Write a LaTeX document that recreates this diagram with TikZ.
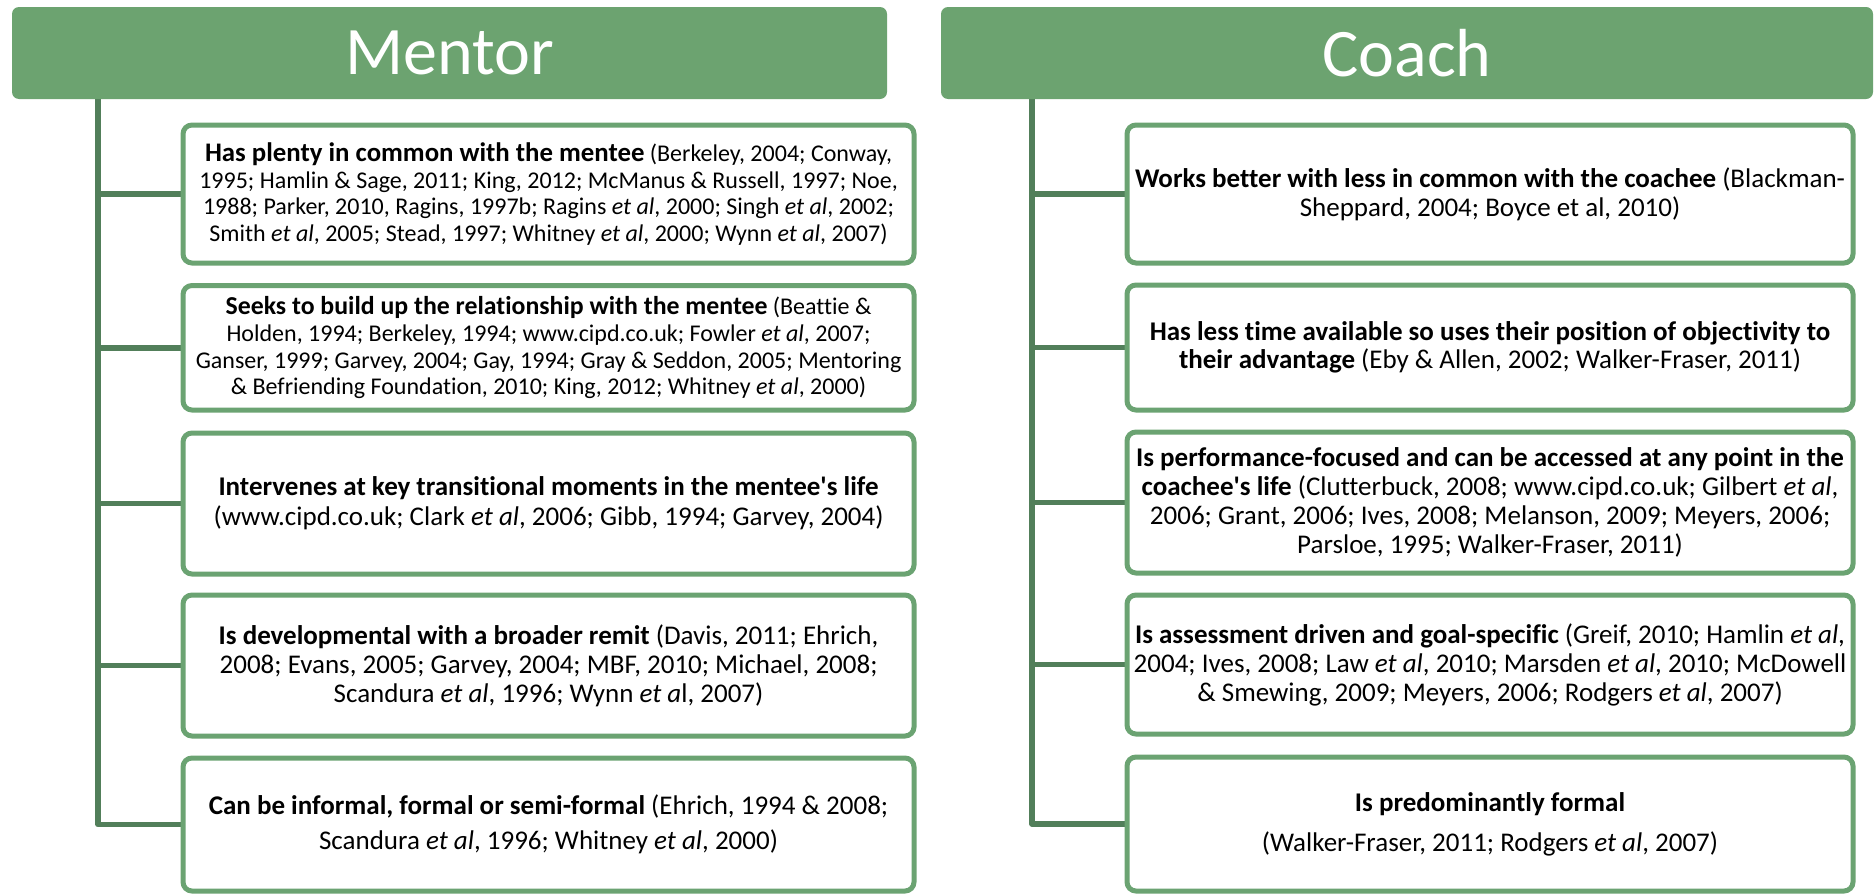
\documentclass[tikz,border=0pt]{standalone}
\usepackage{fontspec}
\setmainfont{Carlito}[Ligatures={TeXOff,CommonOff}]
\usetikzlibrary{backgrounds}
\definecolor{hdr}{HTML}{6CA370}
\definecolor{bdr}{HTML}{6BA372}
\definecolor{trk}{HTML}{527F5A}
\newcommand{\ea}{\textit{et al}}
\newcommand{\hb}[2]{{\fontsize{#1}{26.7}\selectfont\bfseries #2}}
\begin{document}
\begin{tikzpicture}[x=1pt,y=-1pt,
  hdrbox/.style={fill=hdr, rounded corners=7pt, minimum height=92pt, inner sep=0pt, text=white, font=\fontsize{68}{80}\selectfont},
  item/.style={draw=bdr, line width=5pt, fill=white, rounded corners=9pt, inner sep=0pt, align=center},
  small/.style={font=\fontsize{24}{26.7}\selectfont},
  big/.style={font=\fontsize{27}{#1}\selectfont},
  link/.style={draw=trk, line width=5.5pt, line join=round}]
\useasboundingbox (0,0) rectangle (1876,894);
% headers
\node[hdrbox, minimum width=875pt] (mh) at (449.5,53) {Mentor};
\node[hdrbox, minimum width=932pt] (ch) at (1407,53) {Coach};
% mentor boxes
\node[item, small, minimum width=731pt, minimum height=138pt] (m1) at (548.5,194) {\hb{26.8}{Has plenty in common with the mentee} (Berkeley, 2004; Conway,\\ 1995; Hamlin \& Sage, 2011; King, 2012; McManus \& Russell, 1997; Noe,\\ 1988; Parker, 2010, Ragins, 1997b; Ragins \ea, 2000; Singh \ea, 2002;\\ Smith \ea, 2005; Stead, 1997; Whitney \ea, 2000; Wynn \ea, 2007)};
\node[item, small, minimum width=731pt, minimum height=124.5pt] (m2) at (548.5,347.75) {\hb{25.8}{Seeks to build up the relationship with the mentee} (Beattie \&\\ Holden, 1994; Berkeley, 1994; www.cipd.co.uk; Fowler \ea, 2007;\\ Ganser, 1999; Garvey, 2004; Gay, 1994; Gray \& Seddon, 2005; Mentoring\\ \& Befriending Foundation, 2010; King, 2012; Whitney \ea, 2000)};
\node[item, big=30, minimum width=731pt, minimum height=141pt] (m3) at (548.5,503.5) {\textbf{Intervenes at key transitional moments in the mentee's life}\\ (www.cipd.co.uk; Clark \ea, 2006; Gibb, 1994; Garvey, 2004)};
\node[item, big=29, minimum width=731pt, minimum height=141pt] (m4) at (548.5,665.5) {\textbf{Is developmental with a broader remit} (Davis, 2011; Ehrich,\\ 2008; Evans, 2005; Garvey, 2004; MBF, 2010; Michael, 2008;\\ Scandura \ea, 1996; Wynn \textit{et a}l, 2007)};
\node[item, big=35, minimum width=731pt, minimum height=133pt] (m5) at (548.5,824.5) {\textbf{Can be informal, formal or semi-formal} (Ehrich, 1994 \& 2008;\\ Scandura \ea, 1996; Whitney \ea, 2000)};
% coach boxes
\node[item, big=29, minimum width=726pt, minimum height=138pt] (c1) at (1490,194) {\textbf{Works better with less in common with the coachee} (Blackman-\\Sheppard, 2004; Boyce et al, 2010)};
\node[item, big=28.5, minimum width=726pt, minimum height=125pt] (c2) at (1490,347.5) {\textbf{Has less time available so uses their position of objectivity to}\\ \textbf{their advantage} (Eby \& Allen, 2002; Walker-Fraser, 2011)};
\node[item, big=29, minimum width=726pt, minimum height=141pt] (c3) at (1490,502.5) {\textbf{Is performance-focused and can be accessed at any point in the}\\ \textbf{coachee's life} (Clutterbuck, 2008; www.cipd.co.uk; Gilbert \ea,\\ 2006; Grant, 2006; Ives, 2008; Melanson, 2009; Meyers, 2006;\\ Parsloe, 1995; Walker-Fraser, 2011)};
\node[item, big=29, minimum width=726pt, minimum height=139pt] (c4) at (1490,664.5) {\textbf{Is assessment driven and goal-specific} (Greif, 2010; Hamlin \ea,\\ 2004; Ives, 2008; Law \ea, 2010; Marsden \ea, 2010; McDowell\\ \& Smewing, 2009; Meyers, 2006; Rodgers \ea, 2007)};
\node[item, big=40, minimum width=726pt, minimum height=134pt] (c5) at (1490,824) {\textbf{Is predominantly formal}\\ (Walker-Fraser, 2011; Rodgers \ea, 2007)};
% connectors
\coordinate (mt) at (98,99);
\coordinate (ct) at (1032,99);
\begin{scope}[on background layer]
\draw[link] (mh.south -| mt) |- (m5.west);
\foreach \n in {m1,m2,m3,m4} \draw[link] (mt |- \n.west) -- (\n.west);
\draw[link] (ch.south -| ct) |- (c5.west);
\foreach \n in {c1,c2,c3,c4} \draw[link] (ct |- \n.west) -- (\n.west);
\end{scope}
\end{tikzpicture}
\end{document}
